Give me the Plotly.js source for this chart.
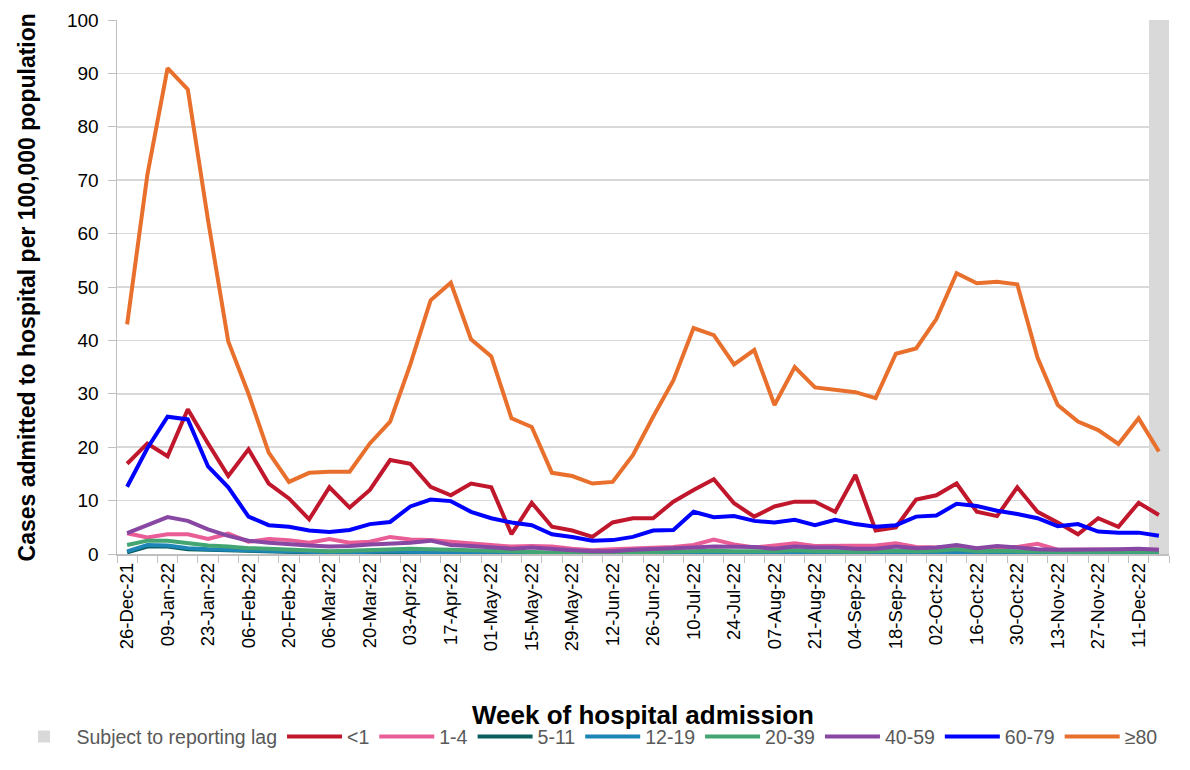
<!DOCTYPE html>
<html>
<head>
<meta charset="utf-8">
<script src="https://cdn.plot.ly/plotly-3.0.1.min.js"></script>
<style>html,body{margin:0;padding:0;background:#fff;}#chart{width:1190px;height:770px;}</style>
</head>
<body>
<div id="chart"></div>
<script>
const weeks = ['26-Dec-21','02-Jan-22','09-Jan-22','16-Jan-22','23-Jan-22','30-Jan-22','06-Feb-22','13-Feb-22','20-Feb-22','27-Feb-22',
  '06-Mar-22','13-Mar-22','20-Mar-22','27-Mar-22','03-Apr-22','10-Apr-22','17-Apr-22','24-Apr-22','01-May-22','08-May-22',
  '15-May-22','22-May-22','29-May-22','05-Jun-22','12-Jun-22','19-Jun-22','26-Jun-22','03-Jul-22','10-Jul-22','17-Jul-22',
  '24-Jul-22','31-Jul-22','07-Aug-22','14-Aug-22','21-Aug-22','28-Aug-22','04-Sep-22','11-Sep-22','18-Sep-22','25-Sep-22',
  '02-Oct-22','09-Oct-22','16-Oct-22','23-Oct-22','30-Oct-22','06-Nov-22','13-Nov-22','20-Nov-22','27-Nov-22','04-Dec-22',
  '11-Dec-22','18-Dec-22'];

const under1 = [16.9,20.7,18.3,27.1,20.7,14.6,19.6,13.2,10.4,6.5,
  12.5,8.7,12.0,17.6,16.9,12.6,11.0,13.2,12.5,3.7,
  9.6,5.1,4.4,3.2,5.9,6.7,6.7,9.8,12.0,14.0,
  9.5,7.0,8.9,9.8,9.8,7.9,14.8,4.4,5.0,10.2,
  11.0,13.2,7.9,7.1,12.5,7.9,5.9,3.7,6.7,5.1,
  9.6,7.3];
const age1to4 = [3.9,3.1,3.7,3.7,2.8,3.8,2.3,2.8,2.6,2.1,
  2.8,2.1,2.3,3.2,2.7,2.6,2.3,2.0,1.6,1.4,
  1.5,1.4,1.0,0.7,0.9,1.0,1.1,1.3,1.7,2.7,
  1.8,1.2,1.6,2.0,1.5,1.5,1.6,1.6,2.0,1.3,
  1.2,1.2,1.0,1.3,1.3,1.9,0.8,0.8,0.8,0.9,
  0.9,0.8];
const age5to11 = [0.3,1.4,1.4,0.9,0.8,0.7,0.5,0.4,0.3,0.3,
  0.2,0.2,0.3,0.4,0.3,0.3,0.2,0.2,0.2,0.1,
  0.1,0.1,0.1,0.1,0.1,0.1,0.1,0.1,0.1,0.1,
  0.1,0.1,0.1,0.2,0.1,0.1,0.1,0.1,0.1,0.1,
  0.1,0.2,0.1,0.1,0.1,0.1,0.1,0.1,0.1,0.1,
  0.2,0.1];
const age12to19 = [0.5,1.7,1.6,1.1,0.9,0.8,0.6,0.5,0.4,0.3,
  0.3,0.3,0.4,0.5,0.4,0.4,0.3,0.3,0.2,0.2,
  0.2,0.1,0.1,0.1,0.1,0.1,0.2,0.2,0.2,0.2,
  0.2,0.2,0.2,0.3,0.2,0.2,0.2,0.2,0.2,0.2,
  0.2,0.3,0.2,0.2,0.2,0.2,0.2,0.1,0.2,0.2,
  0.2,0.2];
const age20to39 = [1.7,2.5,2.5,2.0,1.6,1.4,1.1,1.0,0.8,0.6,
  0.5,0.6,0.7,0.9,1.0,0.9,0.8,0.7,0.5,0.4,
  0.4,0.3,0.3,0.2,0.2,0.3,0.4,0.4,0.5,0.6,
  0.5,0.5,0.5,0.7,0.5,0.5,0.4,0.5,0.6,0.5,
  0.6,0.9,0.5,0.6,0.5,0.4,0.4,0.4,0.4,0.4,
  0.5,0.4];
const age40to59 = [3.9,5.4,6.9,6.2,4.6,3.4,2.5,2.1,1.8,1.6,
  1.4,1.5,1.8,1.9,2.1,2.5,1.7,1.5,1.2,1.0,
  1.2,0.9,0.7,0.5,0.5,0.8,0.9,1.0,1.2,1.4,
  1.3,1.3,1.0,1.4,1.2,1.2,1.0,1.0,1.4,1.1,
  1.2,1.7,1.1,1.5,1.2,0.9,0.8,0.8,0.8,0.9,
  1.0,0.8];
const age60to79 = [12.6,19.8,25.7,25.2,16.4,12.5,7.0,5.4,5.1,4.4,
  4.1,4.5,5.6,6.0,8.9,10.2,9.9,7.9,6.7,5.9,
  5.4,3.7,3.2,2.5,2.6,3.2,4.4,4.5,7.9,6.9,
  7.1,6.2,5.9,6.4,5.4,6.4,5.6,5.1,5.4,7.0,
  7.2,9.4,9.0,8.1,7.5,6.7,5.2,5.6,4.2,4.0,
  4.0,3.4];
const age80plus = [43.0,71.0,91.0,87.0,62.5,39.8,30.0,19.0,13.5,15.2,
  15.4,15.4,20.7,24.8,35.5,47.5,50.8,40.2,37.0,25.4,
  23.8,15.2,14.6,13.2,13.5,18.5,25.7,32.5,42.3,41.0,
  35.5,38.2,27.9,35.0,31.2,30.8,30.3,29.2,37.5,38.5,
  44.0,52.6,50.7,51.0,50.5,36.8,27.9,24.8,23.2,20.6,
  25.4,19.2];

const lagWeeks = ['18-Dec-22'];
const lagTop = [100];

const seriesNames = ['<1','1-4','5-11','12-19','20-39','40-59','60-79','\u226580'];
const seriesData = [under1, age1to4, age5to11, age12to19, age20to39, age40to59, age60to79, age80plus];
const seriesColors = ['#C0172C','#EA5E98','#0A5E5E','#1E86B6','#43A572','#8747A3','#0000FF','#E8702C'];

const xTitle = 'Week of hospital admission';
const yTitle = 'Cases admitted to hospital per 100,000 population';

const tickText = weeks.map((w, i) => (i % 2 === 0 ? w : ''));

const traces = [{
  type: 'bar', x: lagWeeks, y: lagTop, width: 1,
  name: 'Subject to reporting lag',
  marker: {color: '#D9D9D9', line: {width: 0}},
  hoverinfo: 'skip'
}];
seriesNames.forEach((n, k) => {
  traces.push({
    type: 'scatter', mode: 'lines', x: weeks, y: seriesData[k], name: n,
    line: {color: seriesColors[k], width: 4, shape: 'linear'}
  });
});

const font = 'Liberation Sans, Arial, sans-serif';
const layout = {
  width: 1190, height: 770,
  margin: {l: 112, r: 21, t: 20, b: 216},
  paper_bgcolor: '#ffffff', plot_bgcolor: '#ffffff',
  font: {family: font, color: '#000000'},
  showlegend: true,
  legend: {
    orientation: 'h', x: -0.1003, xanchor: 'left', y: -0.379, yanchor: 'bottom',
    font: {family: font, size: 19.5, color: '#595959'},
    traceorder: 'normal', itemwidth: 55, tracegroupgap: 0
  },
  xaxis: {
    type: 'category', categoryorder: 'array', categoryarray: weeks,
    range: [-0.5, 51.5], automargin: false,
    tickmode: 'array', tickvals: weeks, ticktext: tickText,
    tickson: 'boundaries', ticks: 'outside', ticklen: 7, tickcolor: '#BFBFBF',
    tickangle: -90, tickfont: {family: font, size: 18.5, color: '#000'},
    showline: true, linecolor: '#BFBFBF', linewidth: 1.5,
    showgrid: false, zeroline: false
  },
  yaxis: {
    range: [0, 100], dtick: 10, tick0: 0, automargin: false,
    ticks: 'outside', ticklen: 8, tickcolor: '#BFBFBF', ticklabelstandoff: 5,
    tickfont: {family: font, size: 19, color: '#000'},
    showline: true, linecolor: '#BFBFBF', linewidth: 1.5,
    showgrid: true, gridcolor: '#D9D9D9', gridwidth: 1.5, zeroline: false
  },
  annotations: [
    {text: '<b>' + xTitle + '</b>', xref: 'paper', yref: 'paper', x: 0.5, y: -0.3015,
     xanchor: 'center', yanchor: 'middle', showarrow: false,
     font: {family: font, size: 26, color: '#000'}},
    {text: '<b>' + yTitle + '</b>', xref: 'paper', yref: 'paper', x: -0.0851, y: 0.5,
     xanchor: 'center', yanchor: 'middle', showarrow: false, textangle: -90,
     font: {family: font, size: 23, color: '#000'}}
  ],
  bargap: 0
};

Plotly.newPlot('chart', traces, layout, {displayModeBar: false, staticPlot: true});
</script>
</body>
</html>
